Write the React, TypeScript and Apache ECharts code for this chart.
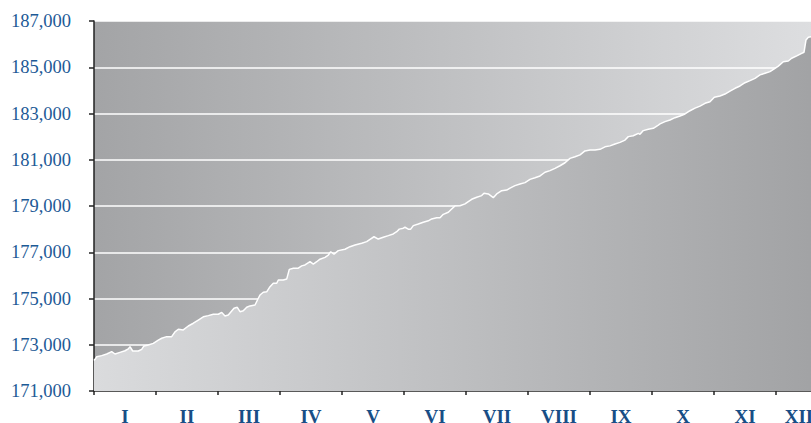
import React, { useEffect, useRef } from "react";
import * as echarts from "echarts";

const months = ["I", "II", "III", "IV", "V", "VI", "VII", "VIII", "IX", "X", "XI", "XII"];
const yTicks = { min: 171000, max: 187000, step: 2000 };

// x position in months (0 = start of January), value
const monthPos = [
  0.0, 0.016, 0.044, 0.124, 0.205, 0.285, 0.339, 0.419, 0.5, 0.553, 0.581, 0.624, 0.715, 0.769, 0.806,
  0.876, 0.956, 1.037, 1.092, 1.173, 1.253, 1.306, 1.36, 1.44, 1.521, 1.602, 1.682, 1.763, 1.844,
  1.924, 2.005, 2.06, 2.113, 2.166, 2.258, 2.311, 2.355, 2.408, 2.463, 2.516, 2.597, 2.65, 2.677,
  2.731, 2.785, 2.839, 2.892, 2.947, 2.973, 3.053, 3.108, 3.15, 3.215, 3.295, 3.35, 3.403, 3.484,
  3.537, 3.592, 3.645, 3.726, 3.779, 3.818, 3.871, 3.94, 4.048, 4.129, 4.21, 4.318, 4.398, 4.452,
  4.516, 4.585, 4.666, 4.747, 4.827, 4.882, 4.924, 4.989, 5.016, 5.069, 5.108, 5.15, 5.231, 5.311,
  5.392, 5.447, 5.527, 5.581, 5.634, 5.715, 5.769, 5.823, 5.903, 5.984, 6.037, 6.092, 6.173, 6.253,
  6.29, 6.36, 6.44, 6.495, 6.576, 6.656, 6.71, 6.79, 6.871, 6.952, 7.032, 7.113, 7.194, 7.274,
  7.355, 7.435, 7.516, 7.597, 7.677, 7.758, 7.839, 7.919, 8.0, 8.081, 8.161, 8.242, 8.323, 8.403,
  8.484, 8.565, 8.618, 8.698, 8.779, 8.806, 8.86, 8.94, 9.021, 9.102, 9.129, 9.21, 9.29, 9.371,
  9.452, 9.532, 9.613, 9.694, 9.774, 9.855, 9.935, 10.005, 10.097, 10.177, 10.258, 10.339, 10.419,
  10.5, 10.581, 10.661, 10.742, 10.823, 10.903, 10.984, 11.037, 11.118, 11.198, 11.253, 11.334,
  11.414, 11.452, 11.484, 11.521, 11.565, 11.74,
];
const population = [
  172320, 172370, 172480, 172530, 172600, 172700, 172600, 172670, 172740, 172820, 172920, 172730, 172730, 172800, 172950,
  172990, 173060, 173200, 173280, 173350, 173350, 173560, 173670, 173640, 173810, 173930, 174070, 174210, 174260,
  174320, 174320, 174400, 174240, 174290, 174580, 174620, 174430, 174470, 174620, 174680, 174720, 175010, 175150,
  175270, 175290, 175510, 175660, 175660, 175800, 175800, 175840, 176260, 176310, 176310, 176410, 176450, 176590,
  176490, 176590, 176700, 176780, 176880, 177020, 176920, 177070, 177130, 177240, 177310, 177390, 177460, 177560,
  177670, 177570, 177650, 177720, 177790, 177890, 178000, 178040, 178080, 178000, 178000, 178150, 178220, 178300,
  178360, 178440, 178490, 178490, 178640, 178730, 178870, 179000, 179010, 179090, 179190, 179290, 179380, 179450,
  179550, 179520, 179360, 179520, 179660, 179690, 179770, 179880, 179950, 180010, 180150, 180220, 180300, 180460,
  180530, 180630, 180740, 180870, 181060, 181130, 181210, 181380, 181420, 181420, 181450, 181560, 181600, 181680,
  181750, 181850, 182000, 182040, 182140, 182100, 182260, 182320, 182360, 182500, 182550, 182650, 182720, 182820,
  182890, 182980, 183120, 183230, 183320, 183440, 183510, 183700, 183760, 183840, 183970, 184090, 184190,
  184330, 184420, 184520, 184670, 184740, 184810, 184950, 185050, 185240, 185270, 185390, 185490,
  185600, 185650, 186180, 186300, 186320, 186360,
];

const SERIF = "'Liberation Serif', 'Times New Roman', serif";

export default function App() {
  const ref = useRef<HTMLDivElement>(null);
  useEffect(() => {
    if (!ref.current) return;
    const chart = echarts.init(ref.current, undefined, { renderer: "svg" });
    const data = monthPos.map((m, i) => [m, population[i]]);
    chart.setOption({
      animation: false,
      backgroundColor: "#ffffff",
      grid: {
        left: 94,
        top: 21,
        width: 744,
        height: 370,
        outerBoundsMode: "none",
        containLabel: false,
        show: true,
        borderWidth: 0,
        backgroundColor: new echarts.graphic.LinearGradient(0, 0, 1, 0, [
          { offset: 0, color: "#a3a4a6" },
          { offset: 1, color: "#dfe0e2" },
        ]),
      },
      xAxis: [
        {
          type: "category",
          data: months,
          boundaryGap: true,
          axisLine: { show: true, lineStyle: { color: "#222", width: 1.5 } },
          axisTick: { show: true, length: 4, lineStyle: { color: "#222", width: 1.5 } },
          splitLine: { show: false },
          axisLabel: {
            interval: 0,
            margin: 18.5,
            color: "#184e86",
            fontFamily: SERIF,
            fontWeight: "bold",
            fontSize: 19,
            lineHeight: 13,
            formatter: (v: string) => (v === "XII" ? "{s|XII}" : v),
            rich: {
              s: {
                color: "#184e86",
                fontFamily: SERIF,
                fontWeight: "bold",
                fontSize: 19,
                lineHeight: 13,
                padding: [0, 16, 0, 0],
              },
            },
          },
        },
        {
          type: "value",
          min: 0,
          max: 12,
          show: false,
        },
      ],
      yAxis: {
        type: "value",
        min: yTicks.min,
        max: yTicks.max,
        interval: yTicks.step,
        axisLine: { show: true, lineStyle: { color: "#222", width: 1.5 } },
        axisTick: { show: true, length: 5, lineStyle: { color: "#222", width: 1.5 } },
        splitLine: { show: true, lineStyle: { color: "#ffffff", width: 1.5 } },
        axisLabel: {
          margin: 23,
          color: "#1d5a96",
          fontFamily: SERIF,
          fontSize: 18.5,
          formatter: (v: number) => v.toLocaleString("en-US"),
        },
      },
      series: [
        {
          type: "line",
          xAxisIndex: 1,
          data,
          showSymbol: false,
          symbol: "none",
          lineStyle: { color: "#ffffff", width: 1.5 },
          areaStyle: {
            opacity: 1,
            color: new echarts.graphic.LinearGradient(0, 0, 1, 0, [
              { offset: 0, color: "#dadbdd" },
              { offset: 1, color: "#a1a2a4" },
            ]),
          },
          z: 3,
        },
      ],
    });
    return () => chart.dispose();
  }, []);
  return (
    <div style={{ position: "fixed", left: 0, top: 0, width: 811, height: 423, overflow: "hidden" }}>
      <div ref={ref} style={{ width: 860, height: 423 }} />
    </div>
  );
}
